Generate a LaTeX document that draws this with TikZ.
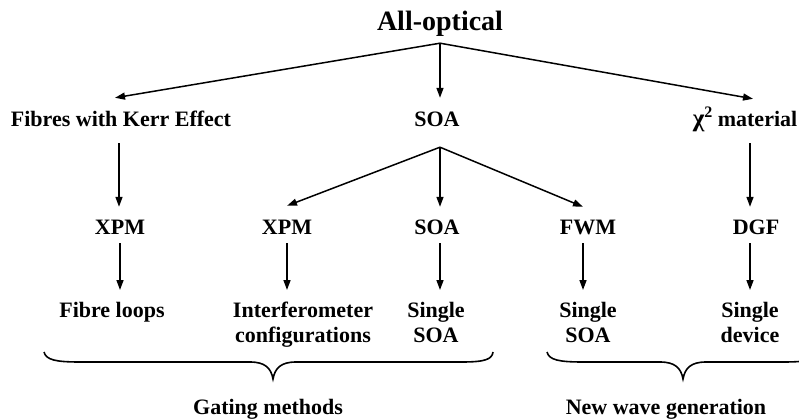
\documentclass[tikz,border=0pt]{standalone}
\usepackage{fontspec}
\setmainfont{Liberation Serif}
\usetikzlibrary{arrows.meta}
\newcommand\lvl{\fontsize{22}{25}\selectfont\bfseries}
\newcommand\ttl{\fontsize{28}{32}\selectfont\bfseries}
\begin{document}
\begin{tikzpicture}[x=1pt,y=-1pt,
  lab/.style={font=\lvl, inner sep=0pt, text height=16pt, text depth=5pt, anchor=base},
  low/.style={font=\lvl, inner sep=0pt, anchor=north, align=center},
  arr/.style={line width=1.5pt, -{Triangle[length=10pt,width=7pt]}},
  brace/.style={line width=1.6pt}]
\useasboundingbox (0,0) rectangle (799,419);
% title
\node[lab, font=\ttl, text height=20pt, text depth=6pt] (title) at (440,31) {All-optical};
\coordinate (apex) at ([yshift=-6pt]title.south);
% level 1
\node[lab] (fib) at (121,127) {Fibres with Kerr Effect};
\node[lab] (soa1) at (437,127) {SOA};
\node[lab] (chi) at (745,127) {{\fontsize{25}{25}\selectfont χ}\raisebox{0.45em}{\fontsize{16}{16}\selectfont 2} material};
% level 2
\node[lab] (xpm1) at (120,235) {XPM};
\node[lab] (xpm2) at (287,235) {XPM};
\node[lab] (soa2) at (437,235) {SOA};
\node[lab] (fwm) at (588,235) {FWM};
\node[lab] (dgf) at (756,235) {DGF};
% level 3
\node[low] (loops) at (112,302) {Fibre loops};
\node[low] (interf) at (303,302) {Interferometer\\configurations};
\node[low] (single1) at (436,302) {Single\\SOA};
\node[low] (single2) at (588,302) {Single\\SOA};
\node[low] (single3) at (750,302) {Single\\device};
% bottom labels
\node[lab] (gate) at (268,414) {Gating methods};
\node[lab] (newwave) at (666,414) {New wave generation};
% arrows from title
\draw[arr] (apex) -- ([xshift=-6pt,yshift=13pt]fib.north);
\draw[arr, shorten >=13pt] (apex) -- (apex |- soa1.north);
\draw[arr] (apex) -- ([xshift=8pt,yshift=12pt]chi.north);
% level 1 -> 2
\draw[arr, shorten <=11pt, shorten >=12pt] ([xshift=-1pt]xpm1.north |- fib.south) -- ([xshift=-1pt]xpm1.north);
\draw[arr, shorten <=11pt, shorten >=12pt] ([xshift=-6pt]dgf.north |- chi.south) -- ([xshift=-6pt]dgf.north);
\coordinate (apex2) at ([yshift=-15pt]apex |- soa1.south);
\draw[arr] (apex2) -- ([yshift=13pt]xpm2.north);
\draw[arr, shorten >=12pt] (apex2) -- (apex2 |- soa2.north);
\draw[arr] (apex2) -- ([xshift=-5pt,yshift=12pt]fwm.north);
% level 2 -> 3
\draw[arr, shorten <=3pt, shorten >=12pt] (xpm1.south) -- (xpm1.south |- loops.north);
\draw[arr, shorten <=3pt, shorten >=12pt] (xpm2.south) -- (xpm2.south |- interf.north);
\draw[arr, shorten <=3pt, shorten >=12pt] (apex |- soa2.south) -- (apex |- single1.north);
\draw[arr, shorten <=3pt, shorten >=12pt] ([xshift=-5pt]fwm.south) -- ([xshift=-5pt]fwm.south |- single2.north);
\draw[arr, shorten <=3pt, shorten >=12pt] ([xshift=-6pt]dgf.south) -- ([xshift=-6pt]dgf.south |- single3.north);
% braces
\draw[brace] (44,352) .. controls (46,360) and (56,362) .. (80,362) -- (250,362)
  .. controls (265,362) and (271,368) .. (273,379)
  .. controls (275,368) and (281,362) .. (296,362) -- (462,362)
  .. controls (486,362) and (492,359) .. (493,352);
\draw[brace] (547,352) .. controls (549,360) and (559,362) .. (583,362) -- (660,362)
  .. controls (675,362) and (681,368) .. (683,379)
  .. controls (685,368) and (691,362) .. (706,362) -- (783,362)
  .. controls (807,362) and (817,360) .. (819,352);
\end{tikzpicture}
\end{document}
